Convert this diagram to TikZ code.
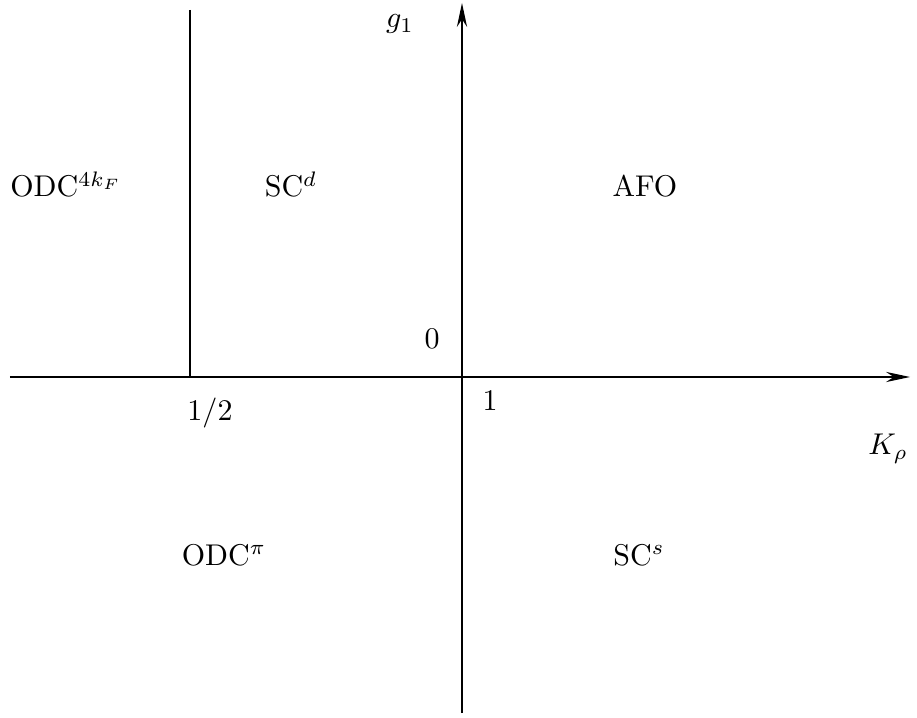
\documentclass[tikz,border=0pt]{standalone}
\usepackage{amsmath}
\usepackage{amsfonts}
\usetikzlibrary{arrows.meta, positioning}

\begin{document}
\begin{tikzpicture}[x=0.3333pt, y=0.3333pt,
    axis/.style={-{Stealth[length=8pt, width=3.4pt, inset=2.6pt]}},
    lbl/.style={anchor=base, inner sep=0pt}]
    \useasboundingbox (-462,-340) rectangle (455,377);

    \coordinate (xl) at (-452,0);
    \coordinate (xr) at (448,0);
    \coordinate (yb) at (0,-336);
    \coordinate (yt) at (0,374);
    \coordinate (ht) at (-272,367);
    \coordinate (hb) at (-272,0);

    \draw[axis] (xl) -- (xr);
    \draw[axis] (yb) -- (yt);
    \draw (ht) -- (hb);

    \node[lbl] (g1)   at (-62,349) {$g_1$};
    \node[lbl] (zero) at (-30,28)  {$0$};
    \node[lbl] (one)  at (28,-34)  {$1$};
    \node[lbl] (half) at (-252,-44) {$1/2$};
    \node[lbl] (Krho) at (426,-78) {$K_\rho$};

    \node[lbl] (odc4) at (-396,180) {ODC$^{4k_F}$};
    \node[lbl] (scd)  at (-171,180) {SC$^d$};
    \node[lbl] (afo)  at (183,180)  {AFO};
    \node[lbl] (odcp) at (-238,-188) {ODC$^\pi$};
    \node[lbl] (scs)  at (177,-188) {SC$^s$};
\end{tikzpicture}
\end{document}
